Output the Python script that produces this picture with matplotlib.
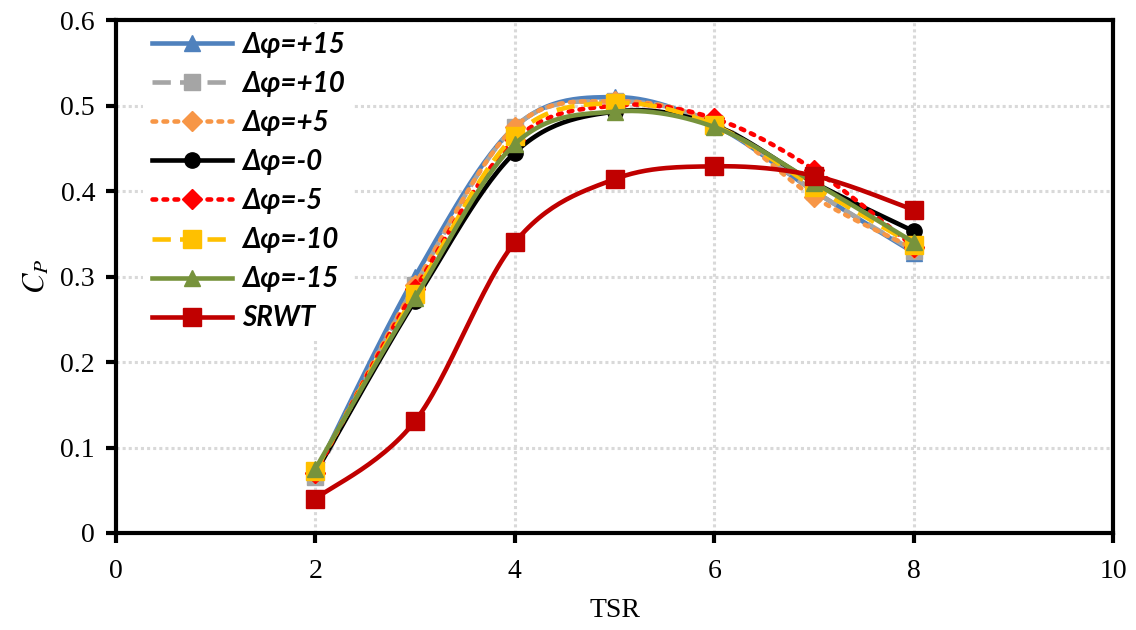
import numpy as np
import matplotlib
matplotlib.use("Agg")
import matplotlib.pyplot as plt
from matplotlib.lines import Line2D

tsr = [2, 3, 4, 5, 6, 7, 8]
cp_p15 = [0.070, 0.300, 0.475, 0.510, 0.477, 0.400, 0.328]
cp_p10 = [0.065, 0.290, 0.475, 0.505, 0.480, 0.400, 0.330]
cp_p5 = [0.070, 0.290, 0.475, 0.505, 0.480, 0.393, 0.333]
cp_0 = [0.070, 0.272, 0.445, 0.493, 0.477, 0.410, 0.353]
cp_m5 = [0.070, 0.285, 0.460, 0.500, 0.485, 0.425, 0.335]
cp_m10 = [0.073, 0.280, 0.465, 0.503, 0.477, 0.405, 0.337]
cp_m15 = [0.075, 0.275, 0.455, 0.493, 0.475, 0.410, 0.340]
cp_srwt = [0.040, 0.131, 0.340, 0.414, 0.429, 0.418, 0.378]

labels = ["Δφ=+15", "Δφ=+10", "Δφ=+5", "Δφ=-0", "Δφ=-5", "Δφ=-10", "Δφ=-15", "SRWT"]
series = [cp_p15, cp_p10, cp_p5, cp_0, cp_m5, cp_m10, cp_m15, cp_srwt]
colors = ["#4F81BD", "#A5A5A5", "#F79646", "#000000", "#FF0000", "#FFC000", "#77933C", "#C00000"]
markers = ["^", "s", "D", "o", "D", "s", "^", "s"]
msizes = [12, 12, 10, 11, 10, 13, 12, 13]
DOT = (0, (0.8, 1.6))
styles = ["-", (0, (4, 2)), DOT, "-", DOT, (0, (4, 2)), "-", "-"]


def smooth(x, y, n=30):
    x = np.asarray(x, float)
    y = np.asarray(y, float)
    P = np.column_stack([x, y])
    P = np.vstack([P[0], P, P[-1]])
    out = []
    for i in range(1, len(P) - 2):
        p0, p1, p2, p3 = P[i - 1], P[i], P[i + 1], P[i + 2]
        c1 = p1 + (p2 - p0) / 6.0
        c2 = p2 - (p3 - p1) / 6.0
        t = np.linspace(0, 1, n)[:, None]
        b = ((1 - t) ** 3) * p1 + 3 * ((1 - t) ** 2) * t * c1 + 3 * (1 - t) * t ** 2 * c2 + t ** 3 * p2
        out.append(b if i == 1 else b[1:])
    B = np.vstack(out)
    return B[:, 0], B[:, 1]


plt.rcParams["font.family"] = ["Liberation Serif", "DejaVu Serif"]
fig = plt.figure(figsize=(11.36, 6.3), dpi=100)
ax = fig.add_axes([0.102, 0.154, 0.878, 0.814])

for i, (ys, c, m, ms, ls) in enumerate(zip(series, colors, markers, msizes, styles)):
    sx, sy = smooth(tsr, ys)
    ax.plot(sx, sy, color=c, lw=3.3, ls=ls, zorder=3 + i, solid_capstyle="butt",
            dash_capstyle="round" if ls == DOT else "butt")
    ax.plot(tsr, ys, ls="none", marker=m, ms=ms, color=c, mec=c, zorder=3 + i)

ax.set_xlim(0, 10)
ax.set_ylim(0, 0.6)
ax.set_xticks([0, 2, 4, 6, 8, 10])
ax.set_yticks([0, 0.1, 0.2, 0.3, 0.4, 0.5, 0.6])
ax.set_yticklabels(["0", "0.1", "0.2", "0.3", "0.4", "0.5", "0.6"])
ax.grid(True, color="#D9D9D9", ls=(0, (1, 1)), lw=2.2, zorder=0)
for s in ax.spines.values():
    s.set_linewidth(3)
    s.set_zorder(30)
ax.tick_params(axis="both", direction="out", length=7, width=3, labelsize=20)
ax.tick_params(axis="x", pad=12)
ax.tick_params(axis="y", pad=8)
ax.set_xlabel("TSR", fontsize=20, labelpad=10)
ax.set_ylabel(r"$C_P$", fontsize=22, labelpad=6, math_fontfamily="stix")

leg_handles = []
for c, m, ms, ls in zip(colors, markers, msizes, styles):
    h = Line2D([0, 0.5, 1], [0, 0, 0], color=c, lw=3.3, ls=ls, marker=m, ms=ms, mec=c,
               markevery=[1], dash_capstyle="round" if ls == DOT else "butt")
    leg_handles.append(h)
leg = ax.legend(leg_handles, labels, loc="upper left", bbox_to_anchor=(0.022, 1.004),
                frameon=True, facecolor="white", edgecolor="none", framealpha=1,
                prop={"family": ["Lato", "DejaVu Sans"], "style": "italic", "weight": "bold", "size": 20},
                handlelength=2.9, handletextpad=0.35, labelspacing=0.47, borderpad=0.3,
                borderaxespad=0.2, fancybox=False)
leg.set_zorder(20)

fig.savefig("out.png", dpi=100)
